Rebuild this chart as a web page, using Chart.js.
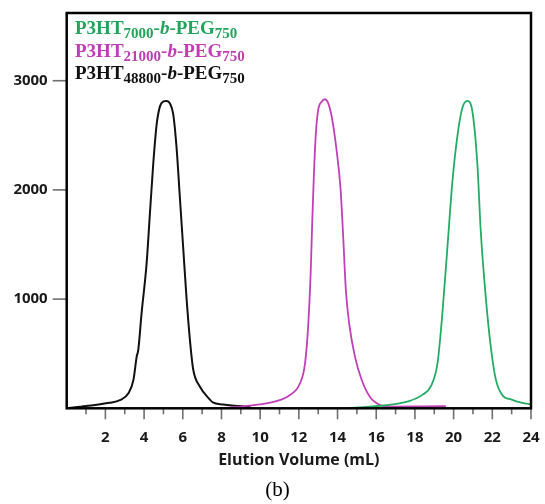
<!DOCTYPE html>
<html>
<head>
<meta charset="utf-8">
<script src="https://cdn.jsdelivr.net/npm/chart.js@4/dist/chart.umd.min.js"></script>
<style>
  html, body { margin: 0; padding: 0; background: #fff; }
  #wrap { position: relative; width: 545px; height: 504px; }
  #legend {
    position: absolute; left: 75px; top: 17px;
    font-family: "Liberation Serif", "DejaVu Serif", serif;
    font-weight: bold; font-size: 19px; line-height: 22.5px;
  }
  #legend sub { font-size: 15px; line-height: 0; vertical-align: -4px; }
  #caption {
    position: absolute; left: 0; top: 477px; width: 555px; text-align: center;
    font-family: "Liberation Serif", serif; font-size: 21px; line-height: 24px;
  }
</style>
</head>
<body>
<div id="wrap">
  <canvas id="chart" width="545" height="504"></canvas>
  <div id="legend">
    <div style="color:#1fa65b">P3HT<sub>7000</sub>-<i>b</i>-PEG<sub>750</sub></div>
    <div style="color:#c13cb6">P3HT<sub>21000</sub>-<i>b</i>-PEG<sub>750</sub></div>
    <div style="color:#111">P3HT<sub>48800</sub>-<i>b</i>-PEG<sub>750</sub></div>
  </div>
  <div id="caption">(b)</div>
</div>
<script>
  // elution volume (mL) / signal
  var blackX = [0, 1.0, 2.2, 2.75, 3.2, 3.45, 3.62, 3.7, 3.87, 4.13, 4.3, 4.47, 4.65, 4.82, 5.0, 5.16, 5.34, 5.51, 5.68, 5.85, 6.02, 6.19, 6.37, 6.54, 6.88, 7.4, 7.55, 8.08, 8.94, 9.5];
  var blackY = [0, 20, 50, 75, 140, 260, 475, 535, 870, 1325, 1780, 2230, 2600, 2765, 2810, 2815, 2790, 2690, 2385, 1930, 1475, 1020, 625, 355, 200, 80, 55, 35, 20, 10];

  var magentaX = [7.6, 8.5, 9.97, 10.83, 11.54, 12.06, 12.32, 12.49, 12.61, 12.69, 12.78, 12.88, 13.0, 13.18, 13.35, 13.52, 13.7, 13.95, 14.16, 14.3, 14.43, 14.6, 14.9, 15.25, 15.67, 16.19, 16.7, 18.5, 19.6];
  var magentaY = [0, 8, 35, 65, 122, 229, 412, 778, 1236, 1694, 2152, 2518, 2732, 2808, 2830, 2793, 2670, 2365, 2000, 1541, 1083, 778, 473, 259, 106, 30, 15, 18, 20];

  var greenX = [14.6, 16.85, 17.7, 18.4, 18.82, 19.17, 19.42, 19.68, 19.94, 20.2, 20.45, 20.71, 20.97, 21.23, 21.4, 21.66, 21.92, 22.18, 22.5, 23.0, 23.55, 24.0];
  var greenY = [0, 35, 65, 125, 200, 415, 870, 1475, 2080, 2500, 2750, 2815, 2720, 2230, 1630, 1020, 565, 265, 125, 80, 50, 35];

  var xTickLabels = [2, 4, 6, 8, 10, 12, 14, 16, 18, 20, 22, 24];
  var yTickLabels = [1000, 2000, 3000];

  function pts(xs, ys){
    return xs.map(function(x, i){ return {x: x, y: ys[i]}; });
  }

  function line(label, xs, ys, color, width){
    return {
      label: label,
      data: pts(xs, ys),
      borderColor: color,
      borderWidth: width,
      pointRadius: 0,
      fill: false,
      cubicInterpolationMode: 'monotone'
    };
  }

  // frame and tick marks, placed with the chart's own scales
  var framePlugin = {
    id: 'frame',
    afterDraw: function(chart){
      var ctx = chart.ctx, a = chart.chartArea;
      var xs = chart.scales.x, ys = chart.scales.y;
      ctx.save();
      ctx.strokeStyle = '#6f6f6f';
      ctx.lineWidth = 1.6;
      for (var v = 1; v <= 24; v++){
        var px = xs.getPixelForValue(v);
        ctx.beginPath();
        ctx.moveTo(px, a.bottom);
        ctx.lineTo(px, a.bottom + (v % 2 === 0 ? 11 : 6));
        ctx.stroke();
      }
      // y tick marks, vertical counterpart of the x ones
      for (var i = 0; i < yTickLabels.length; i++){
        var py = ys.getPixelForValue(yTickLabels[i]);
        ctx.beginPath();
        ctx.moveTo(a.left - 14, py);
        ctx.lineTo(a.left, py);
        ctx.stroke();
      }
      ctx.strokeStyle = '#000';
      ctx.lineWidth = 2.5;
      ctx.strokeRect(a.left, a.top, a.right - a.left, a.bottom - a.top);
      ctx.restore();
    }
  };

  function noPad(scale){
    scale.paddingLeft = 0;
    scale.paddingRight = 0;
    scale.paddingTop = 0;
    scale.paddingBottom = 0;
  }

  var tickFont = {family: '"Open Sans", sans-serif', weight: 'bold', size: 15};

  new Chart(document.getElementById('chart').getContext('2d'), {
    type: 'line',
    data: {
      datasets: [
        line('P3HT7000-b-PEG750', greenX, greenY, '#22ad62', 1.8),
        line('P3HT21000-b-PEG750', magentaX, magentaY, '#c23fba', 1.8),
        line('P3HT48800-b-PEG750', blackX, blackY, '#111', 2)
      ]
    },
    options: {
      responsive: false,
      animation: false,
      layout: {padding: {left: 0, top: 13, right: 14, bottom: 0}},
      plugins: {legend: {display: false}, tooltip: {enabled: false}},
      scales: {
        x: {
          type: 'linear',
          min: 0,
          max: 24,
          grid: {display: false, drawTicks: false},
          border: {display: false},
          ticks: {
            padding: 20,
            color: '#1a1a1a',
            font: tickFont,
            maxRotation: 0,
            autoSkip: false,
            callback: function(v){ return String(v); }
          },
          afterBuildTicks: function(scale){
            scale.ticks = xTickLabels.map(function(v){ return {value: v}; });
          },
          title: {
            display: true,
            text: 'Elution Volume (mL)',
            color: '#1a1a1a',
            font: {family: '"Open Sans", sans-serif', weight: 'bold', size: 16},
            padding: {top: 0, bottom: 34}
          },
          afterFit: function(scale){ scale.height = 95.7; noPad(scale); }
        },
        y: {
          min: 0,
          max: 3620,
          grid: {display: false, drawTicks: false},
          border: {display: false},
          ticks: {
            padding: 19,
            color: '#1a1a1a',
            font: tickFont,
            autoSkip: false,
            callback: function(v){ return String(v); }
          },
          afterBuildTicks: function(scale){
            scale.ticks = yTickLabels.map(function(v){ return {value: v}; });
          },
          afterFit: function(scale){ scale.width = 66.7; noPad(scale); }
        }
      }
    },
    plugins: [framePlugin]
  });
</script>
</body>
</html>
